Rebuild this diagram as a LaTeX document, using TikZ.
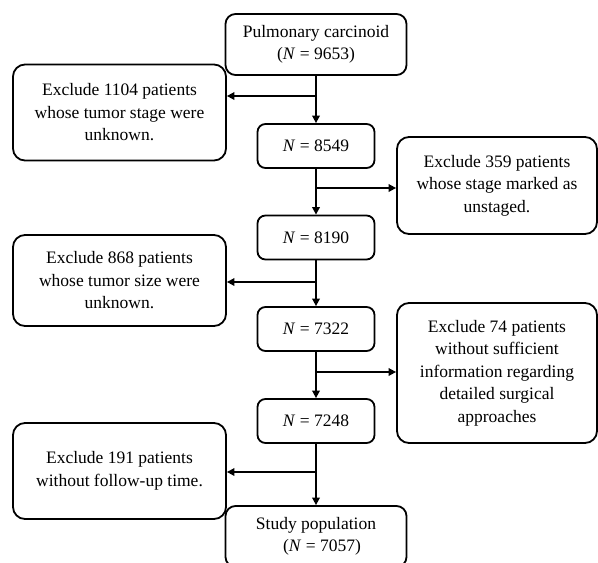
\documentclass[tikz,border=0pt]{standalone}
\usepackage{fontspec}
\setmainfont{Liberation Serif}
\usetikzlibrary{arrows.meta}

\tikzset{
  box/.style={draw, line width=1.8pt, align=center, inner sep=0pt,
    font=\fontsize{17.5}{22.5}\selectfont},
  exbox/.style={box, rounded corners=12pt, minimum width=213pt, minimum height=96pt},
  rbox/.style={box, rounded corners=12pt, minimum width=200pt},
  nbox/.style={box, rounded corners=8pt, minimum width=117pt, minimum height=44pt},
  endbox/.style={box, rounded corners=10pt, minimum width=181pt, minimum height=61pt},
  arr/.style={line width=1.7pt, -{Triangle[length=7.5pt,width=7.5pt]}}
}

\begin{document}
\begin{tikzpicture}[x=1pt,y=-1pt]
    \useasboundingbox (0,0) rectangle (598,563);
    \def\ns{8549/146,8190/237.5,7322/329,7248/421}
    %       n1       n2         n3      n4
    \foreach \n/\y [count=\i from 1] in \ns {\node[nbox] (n\i) at (316,\y) {\textit{N} = \n};}
    \node[endbox] (top) at (316,44.5) {Pulmonary carcinoid\\(\textit{N} = 9653)};
    \node[endbox] (study) at (316,536.5) {Study population\\\hspace*{12pt}(\textit{N} = 7057)};
    \node[exbox] (ex1) at (119.5,112.5) {Exclude 1104 patients\\whose tumor stage were\\unknown.};
    \node[rbox, minimum height=97pt] (ex2) at (497,185.5) {Exclude 359 patients\\whose stage marked as\\unstaged.};
    \node[exbox, minimum height=91pt] (ex3) at (119.5,280.5) {Exclude 868 patients\\whose tumor size were\\unknown.};
    \node[rbox, minimum height=140pt] (ex4) at (497,373) {Exclude 74 patients\\without sufficient\\information regarding\\detailed surgical\\approaches};
    \node[exbox] (ex5) at (119.5,471) {Exclude 191 patients\\without follow-up time.};
    \draw[arr] (top) -- (n1);
    \draw[arr] (n1) -- (n2);
    \draw[arr] (n2) -- (n3);
    \draw[arr] (n3) -- (n4);
    \draw[arr] (n4) -- (study);
    \coordinate (b1) at (316,96);
    \coordinate (b2) at (316,188);
    \coordinate (b3) at (316,282);
    \coordinate (b4) at (316,372);
    \coordinate (b5) at (316,472);
    \draw[arr] (b1) -- (b1 -| ex1.east);
    \draw[arr] (b2) -- (b2 -| ex2.west);
    \draw[arr] (b3) -- (b3 -| ex3.east);
    \draw[arr] (b4) -- (b4 -| ex4.west);
    \draw[arr] (b5) -- (b5 -| ex5.east);
  \end{tikzpicture}
\end{document}
